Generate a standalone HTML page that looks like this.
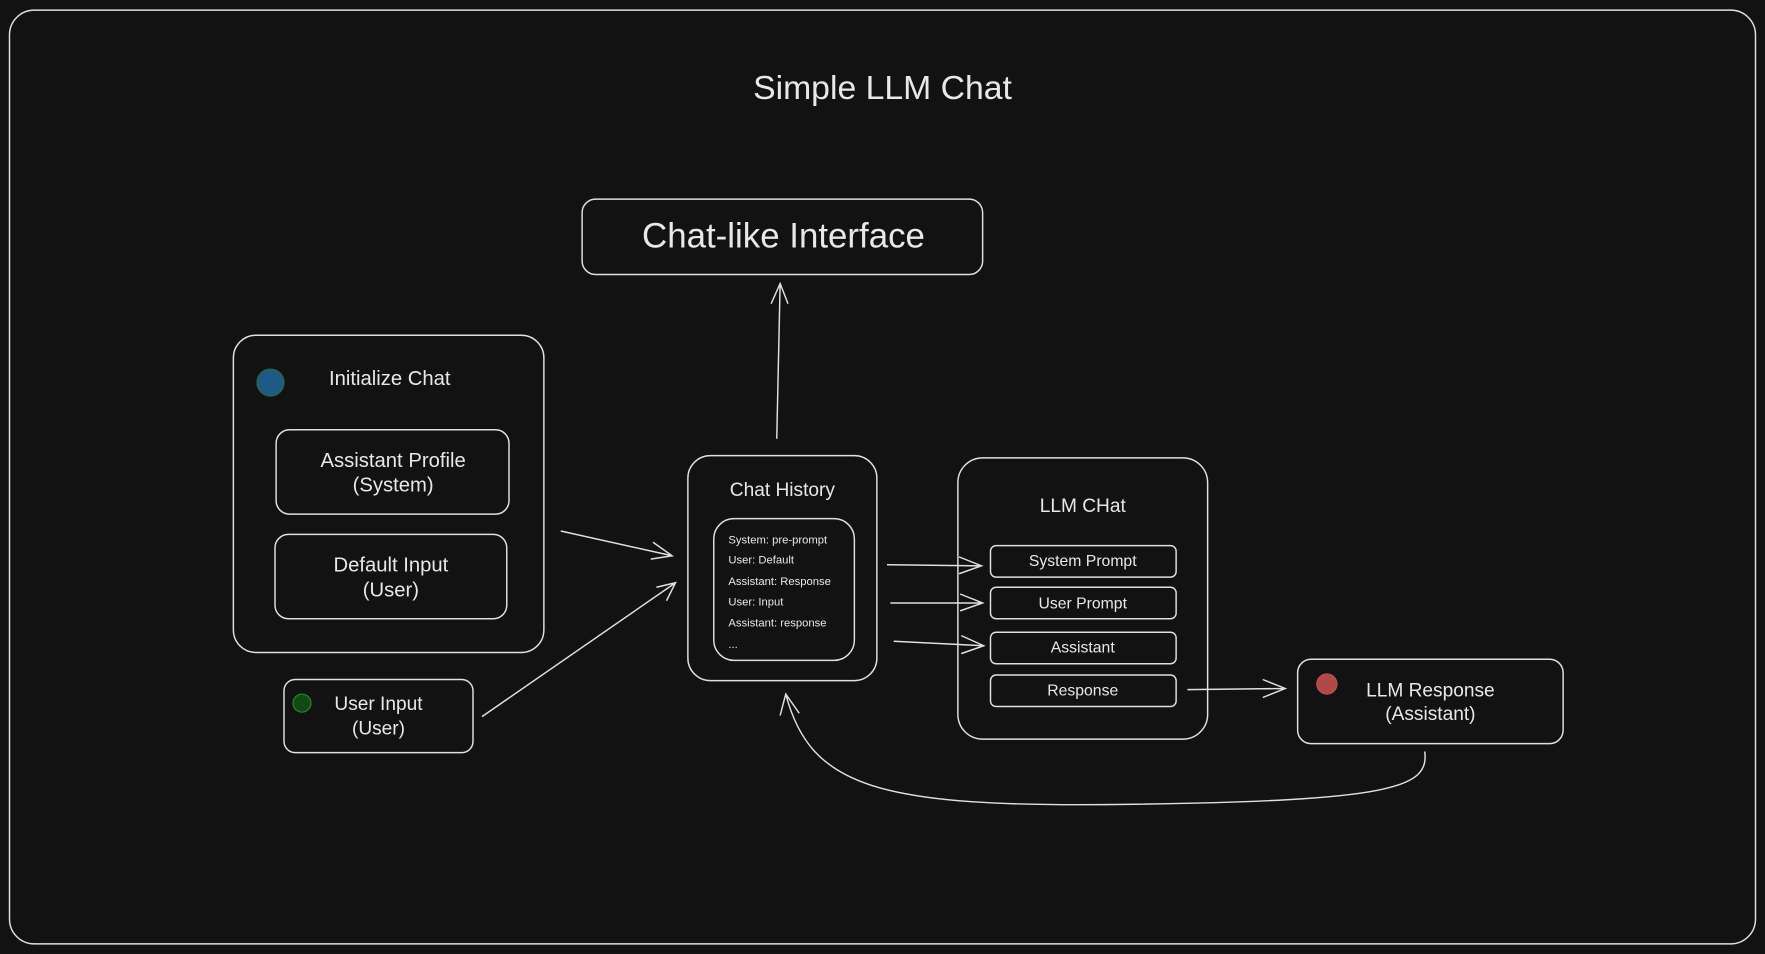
<!DOCTYPE html>
<html><head><meta charset="utf-8"><style>
html,body{margin:0;padding:0;background:#121212;}
svg{display:block;}
text{font-family:"Liberation Sans",sans-serif;fill:#e8e8e8;text-anchor:middle;}
</style></head><body>
<svg width="1765" height="954" viewBox="0 0 1568 848" xmlns="http://www.w3.org/2000/svg">
<rect x="0" y="0" width="1568" height="848" fill="#121212"/>
<g fill="none" stroke="#e0e0e0" stroke-width="1.3">
<rect x="8" y="9" width="1552" height="830" rx="22"/>
<rect x="517" y="177" width="356" height="67" rx="12"/>
<rect x="207" y="298" width="276" height="282" rx="20"/>
<rect x="245" y="382" width="207" height="75" rx="12"/>
<rect x="244" y="475" width="206" height="75" rx="12"/>
<rect x="252" y="604" width="168" height="65" rx="10"/>
<rect x="611" y="405" width="168" height="200" rx="20"/>
<rect x="634" y="461" width="125" height="126" rx="18"/>
<rect x="851" y="407" width="222" height="250" rx="22"/>
<rect x="880" y="485" width="165" height="28" rx="5"/>
<rect x="880" y="522" width="165" height="28" rx="5"/>
<rect x="880" y="562" width="165" height="28" rx="5"/>
<rect x="880" y="600" width="165" height="28" rx="5"/>
<rect x="1153" y="586" width="236" height="75" rx="12"/>
<path d="M690 390 L693 252 M685 270 L693 252 L700 270"/>
<path d="M498 472 L597 494 M580 482 L597 494 L578 497"/>
<path d="M428 637 L600 518 M583 522 L600 518 L592 534"/>
<path d="M788 502 L872 503 M852 495 L872 503 L852 510"/>
<path d="M791 536 L873 536 M853 528 L873 536 L853 543"/>
<path d="M794 570 L874 574 M854 565 L874 574 L854 581"/>
<path d="M1055 613 L1142 612 M1122 604 L1142 612 L1122 620"/>
<path d="M1266 668 C1270 700 1240 712 1000 715 C780 718 720 700 698 617 M693 636 L698 617 L710 634"/>
</g>
<circle cx="240" cy="340" r="12" fill="#1d5a86" stroke="#2a6a40"/>
<circle cx="268" cy="625" r="8" fill="#114a14" stroke="#2a8a30"/>
<circle cx="1179" cy="608" r="9" fill="#b04848" stroke="#c05050"/>
<text x="784" y="88" font-size="30">Simple LLM Chat</text>
<text x="696" y="220" font-size="31">Chat-like Interface</text>
<text x="346" y="342" font-size="18">Initialize Chat</text>
<text x="349" y="415" font-size="18">Assistant Profile</text>
<text x="349" y="437" font-size="18">(System)</text>
<text x="347" y="508" font-size="18">Default Input</text>
<text x="347" y="530" font-size="18">(User)</text>
<text x="336" y="631" font-size="17">User Input</text>
<text x="336" y="653" font-size="17">(User)</text>
<text x="695" y="441" font-size="17">Chat History</text>
<g style="text-anchor:start" font-size="10">
<text x="647" y="483" style="text-anchor:start">System: pre-prompt</text>
<text x="647" y="501" style="text-anchor:start">User: Default</text>
<text x="647" y="520" style="text-anchor:start">Assistant: Response</text>
<text x="647" y="538" style="text-anchor:start">User: Input</text>
<text x="647" y="557" style="text-anchor:start">Assistant: response</text>
<text x="647" y="576" style="text-anchor:start">...</text>
</g>
<text x="962" y="455" font-size="17">LLM CHat</text>
<text x="962" y="503" font-size="14">System Prompt</text>
<text x="962" y="541" font-size="14">User Prompt</text>
<text x="962" y="580" font-size="14">Assistant</text>
<text x="962" y="618" font-size="14">Response</text>
<text x="1271" y="619" font-size="17">LLM Response</text>
<text x="1271" y="640" font-size="17">(Assistant)</text>
</svg>
</body></html>
